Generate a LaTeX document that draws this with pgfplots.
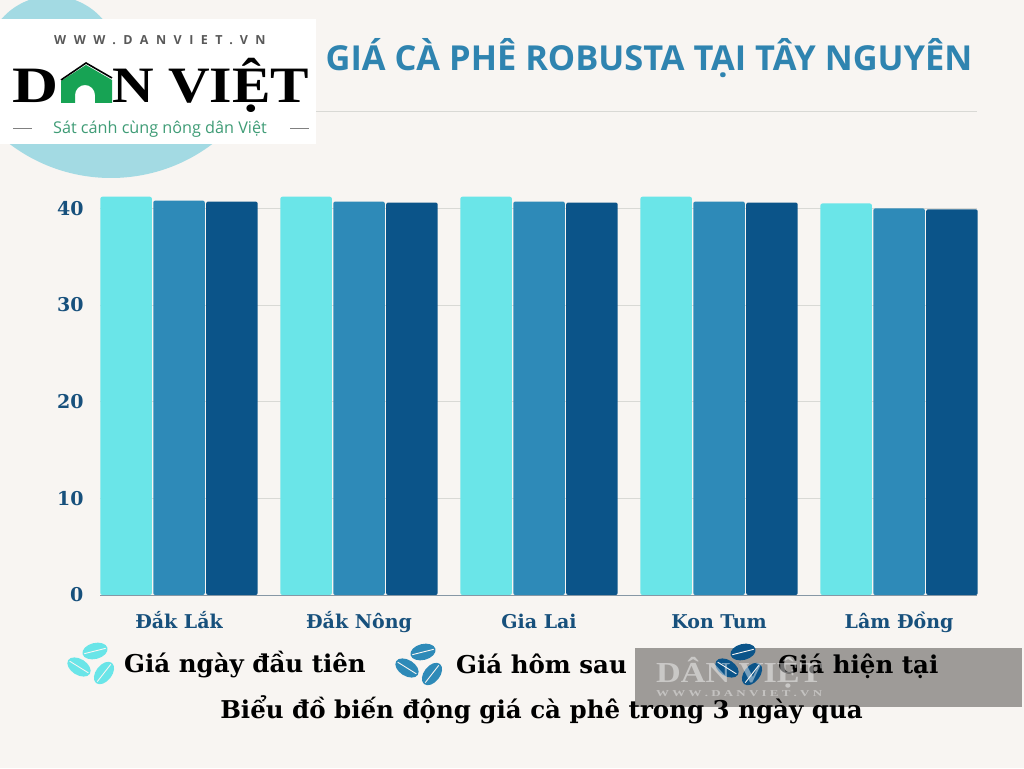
\documentclass[border=0pt]{standalone}
\usepackage{fontspec}
\usepackage{graphicx}
\usepackage{pgfplots}
\pgfplotsset{compat=1.18}
\setmainfont{DejaVu Serif}
\newfontfamily\titlefont{Open Sans}
\newfontfamily\logoser{Liberation Serif}
\newfontfamily\spaced[LetterSpace=60]{Open Sans}
\definecolor{bg}{HTML}{F8F5F2}
\definecolor{cyanbar}{HTML}{6AE5E8}
\definecolor{midbar}{HTML}{2E8AB8}
\definecolor{darkbar}{HTML}{0B5489}
\definecolor{ticktxt}{HTML}{17507C}
\definecolor{titlec}{HTML}{2F84B0}
\definecolor{circ}{HTML}{A3DAE3}
\definecolor{gridc}{HTML}{D9D9D5}
\definecolor{wm}{HTML}{9E9B98}
\definecolor{logog}{HTML}{17A354}
\definecolor{tagg}{HTML}{3F9C76}
\newcommand\bean[4]{%
  \begin{scope}[shift={(#1,#2)},rotate=#3]
    \fill[#4] (0,0) ellipse [x radius=12.8, y radius=8];
    \draw[bg,line width=0.9pt] (-11,0) -- (11,0);
  \end{scope}}
\newcommand\beans[3]{%
  \bean{#1+16}{#2-13}{14}{#3}
  \bean{#1}{#2+3}{-32}{#3}
  \bean{#1+25}{#2+9}{52}{#3}}
\begin{document}
\begin{tikzpicture}[x=1pt,y=1pt]
\useasboundingbox (0,0) rectangle (1024,768);
\clip (0,0) rectangle (1024,768);
\fill[bg] (0,0) rectangle (1024,768);
\begin{scope}[shift={(0,768)},x=1pt,y=-1pt]
  \fill[circ] (52,63) circle [radius=67];
  \begin{scope}
    \clip (0,100) rectangle (400,200);
    \fill[circ] (111,10) circle [radius=168];
  \end{scope}
  \draw[gridc,line width=0.8pt] (316,111.5) -- (977,111.5);
  \fill[white] (0,19) rectangle (316,144);
  \node[anchor=west,text=black!65,inner sep=0pt,font=\spaced\bfseries\fontsize{12.5}{12.5}\selectfont] at (54,40) {WWW.DANVIET.VN};
  \node[anchor=base west,inner sep=0pt,font=\logoser\bfseries\fontsize{51}{51}\selectfont] at (12,103) {\scalebox{1.25}[1]{D}};
  \node[anchor=base west,inner sep=0pt,font=\logoser\bfseries\fontsize{51}{51}\selectfont] at (112,103) {\scalebox{1.13}[1]{N VIỆT}};
  \fill[logog] (61,103) -- (61,81) -- (86,65) -- (112,80) -- (112,103) -- (95,103) -- (95,95) arc[start angle=0,end angle=-180,radius=10] -- (75,103) -- cycle;
  \draw[black,line width=1.6pt] (61,80) -- (86,63) -- (112,78);
  \node[anchor=center,text=tagg,inner sep=0pt,font=\titlefont\fontsize{16.2}{16.2}\selectfont] at (160,129) {Sát cánh cùng nông dân Việt};
  \draw[black!50,line width=0.6pt] (13,128) -- (32,128) (290,128) -- (309,128);
  \node[anchor=center,text=titlec,inner sep=0pt,font=\titlefont\bfseries\fontsize{34.4}{34.4}\selectfont] at (649,58) {GIÁ CÀ PHÊ ROBUSTA TẠI TÂY NGUYÊN};
  % grey watermark box
  \fill[wm] (635,648) rectangle (1022,707);
  \beans{79}{664}{cyanbar}
  \beans{407}{665}{midbar}
  \beans{727}{665}{darkbar}
  \node[anchor=base west,inner sep=0pt,font=\bfseries\fontsize{24.5}{24.5}\selectfont] at (124,672.5) {Giá ngày đầu tiên};
  \node[anchor=base west,inner sep=0pt,font=\bfseries\fontsize{24.5}{24.5}\selectfont] at (456,673.5) {Giá hôm sau};
  \node[anchor=base west,inner sep=0pt,font=\bfseries\fontsize{24.5}{24.5}\selectfont] at (778,673) {Giá hiện tại};
  \node[anchor=base,inner sep=0pt,font=\bfseries\fontsize{24.5}{24.5}\selectfont] at (541.5,718) {Biểu đồ biến động giá cà phê trong 3 ngày qua};
  % watermark
  \node[anchor=base west,inner sep=0pt,text=white,opacity=0.45,font=\logoser\bfseries\fontsize{29}{29}\selectfont] at (656,682) {\scalebox{1.18}[1]{DÂN VIỆT}};
  \node[anchor=west,inner sep=0pt,text=white,opacity=0.4,font=\logoser\bfseries\fontsize{9}{9}\selectfont] at (656,694) {\scalebox{1.44}[1]{W W W . D A N V I E T . V N}};
\end{scope}
\begin{axis}[
  at={(100pt,173pt)},anchor=south west,
  scale only axis,width=877pt,height=406pt,
  xmin=-0.439,xmax=4.433,ymin=0,ymax=42,
  hide x axis,axis y line*=left,axis line style={draw=none},
  ymajorgrids,grid style={gridc,line width=0.7pt},
  major tick length=0pt,
  ytick={0,10,20,30,40},
  /pgf/number format/assume math mode=true,
  yticklabel style={text=ticktxt,font=\bfseries\fontsize{19}{19}\selectfont,xshift=-13pt},
]
\addplot[draw=none] coordinates {(0,0) (4,40)};
\end{axis}
\begin{axis}[
  at={(100pt,173pt)},anchor=south west,
  scale only axis,width=877pt,height=406pt,
  xmin=-0.439,xmax=4.433,ymin=0,ymax=42,
  ybar=1.4pt,bar width=51.5pt,
  axis x line*=bottom,axis y line=none,
  axis line style={draw=black!40!ticktxt!50},
  xtick={0,1,2,3,4},
  xticklabels={Đắk Lắk,Đắk Nông,Gia Lai,Kon Tum,Lâm Đồng},
  major tick length=0pt,
  ytick={0,10,20,30,40},
  xticklabel style={text=ticktxt,font=\bfseries\fontsize{19}{19}\selectfont,text height=14pt,text depth=5pt,anchor=center,yshift=-29.5pt},
  clip=false,
  every axis plot/.append style={draw=none,rounded corners=2pt},
]
\addplot[fill=cyanbar] coordinates {(0,41.2) (1,41.2) (2,41.2) (3,41.2) (4,40.5)};
\addplot[fill=midbar] coordinates {(0,40.8) (1,40.7) (2,40.7) (3,40.7) (4,40.0)};
\addplot[fill=darkbar] coordinates {(0,40.7) (1,40.6) (2,40.6) (3,40.6) (4,39.9)};
\end{axis}
\end{tikzpicture}
\end{document}
